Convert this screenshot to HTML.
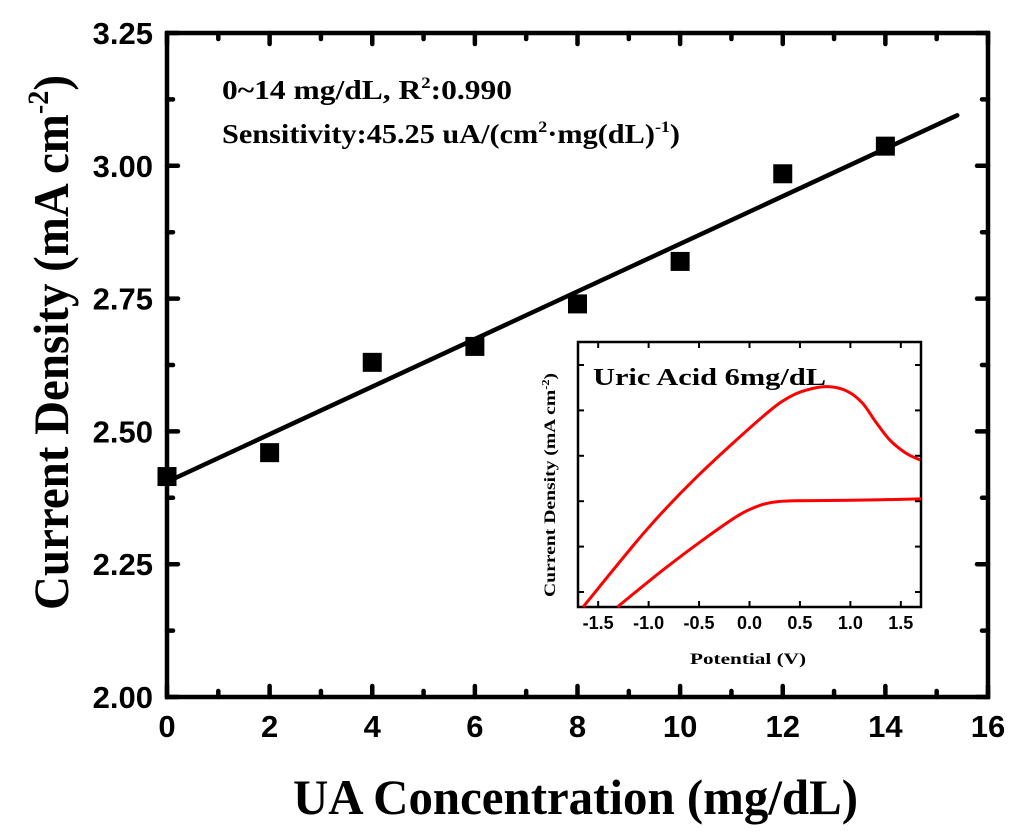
<!DOCTYPE html>
<html><head><meta charset="utf-8"><style>
html,body{margin:0;padding:0;background:#fff;width:1024px;height:839px;overflow:hidden}
text{font-family:"Liberation Sans",sans-serif}
.serif{font-family:"Liberation Serif",serif;font-weight:bold}
</style></head><body>
<svg id="chart" width="1024" height="839" viewBox="0 0 1024 839" xmlns="http://www.w3.org/2000/svg">
<g id="main"></g>
<g id="inset"></g>
</svg>
<script>
const xCats = [0, 2, 4, 6, 8, 10, 12, 14];
const yVals = [2.415, 2.46, 2.63, 2.66, 2.74, 2.82, 2.985, 3.037];
const xTicks = [0, 2, 4, 6, 8, 10, 12, 14, 16];
const yTicks = [2.00, 2.25, 2.50, 2.75, 3.00, 3.25];
const fitX = [0, 15.4];
const fitY = [2.405, 3.095];
const insetXTicks = [-1.5, -1.0, -0.5, 0.0, 0.5, 1.0, 1.5];
const insetYTicks = [1, 2, 3, 4, 5, 6];
const upperX = [-1.65, -1.02, -0.52, 0.13, 0.40, 0.62, 0.80, 0.97, 1.12, 1.25, 1.39, 1.55, 1.69];
const upperY = [0.67, 2.37, 3.54, 4.86, 5.30, 5.48, 5.52, 5.42, 5.16, 4.75, 4.35, 4.06, 3.91];
const lowerX = [-1.31, -0.86, -0.46, -0.10, 0.12, 0.28, 0.50, 1.0, 1.70];
const lowerY = [0.67, 1.48, 2.15, 2.70, 2.92, 2.99, 3.01, 3.02, 3.05];

const NS = "http://www.w3.org/2000/svg";
function mk(tag, attrs, parent){const e=document.createElementNS(NS,tag);for(const k in attrs)e.setAttribute(k,attrs[k]);parent.appendChild(e);return e;}

const L=167,R=988,T=33,B=697;
const sx=v=>L+(v-0)/16*(R-L);
const sy=v=>B-(v-2.0)/1.25*(B-T);
const main=document.getElementById('main');
const frame=mk('rect',{x:L,y:T,width:R-L,height:B-T,fill:'none',stroke:'#000','stroke-width':4.5},main);


for(let i=0;i<=16;i++){
  const x=sx(i),len=(i%2===0)?11:6;
  const t1=mk('line',{x1:x,y1:B,x2:x,y2:B-len,stroke:'#000','stroke-width':4.5,'stroke-linecap':'round'},main);
  
  
  const t2=mk('line',{x1:x,y1:T,x2:x,y2:T+len,stroke:'#000','stroke-width':4.5,'stroke-linecap':'round'},main);
  
  
}
for(let i=0;i<=10;i++){
  const v=2+i*0.125,y=sy(v),len=(i%2===0)?11:6;
  const t1=mk('line',{x1:L,y1:y,x2:L+len,y2:y,stroke:'#000','stroke-width':4.5,'stroke-linecap':'round'},main);
  
  
  const t2=mk('line',{x1:R,y1:y,x2:R-len,y2:y,stroke:'#000','stroke-width':4.5,'stroke-linecap':'round'},main);
  
  
}
xTicks.forEach(v=>{
  const t=mk('text',{x:sx(v),y:737,'text-anchor':'middle','font-size':31,'font-weight':'bold'},main);t.textContent=v;
  
  
});
yTicks.forEach(v=>{
  const t=mk('text',{x:153,y:sy(v)+11,'text-anchor':'end','font-size':31,'font-weight':'bold'},main);t.textContent=v.toFixed(2);
  
  
});
const fit=mk('line',{x1:sx(fitX[0]),y1:sy(fitY[0]),x2:sx(fitX[1]),y2:sy(fitY[1]),stroke:'#000','stroke-width':4.5,'stroke-linecap':'round'},main);


xCats.forEach((c,i)=>{
  const s=mk('rect',{x:sx(c)-9.5,y:sy(yVals[i])-9.5,width:19,height:19,fill:'#000'},main);
  
  
});
let t=mk('text',{x:222,y:99,'font-size':27,class:'serif',textLength:290,lengthAdjust:'spacingAndGlyphs'},main);
t.innerHTML='0~14 mg/dL,  R<tspan dy="-11" font-size="16">2</tspan><tspan dy="11">:0.990</tspan>';


t=mk('text',{x:222,y:143,'font-size':27,class:'serif',textLength:458,lengthAdjust:'spacingAndGlyphs'},main);
t.innerHTML='Sensitivity:45.25 uA/(cm<tspan dy="-11" font-size="16">2</tspan><tspan dy="11">·mg(dL)</tspan><tspan dy="-11" font-size="16">-1</tspan><tspan dy="11">)</tspan>';


t=mk('text',{x:293,y:814,'font-size':50,class:'serif',textLength:565,lengthAdjust:'spacingAndGlyphs'},main);
t.textContent='UA Concentration (mg/dL)';


t=mk('text',{x:-268,y:0,'font-size':50,class:'serif',transform:'translate(68,342) rotate(-90)',textLength:535,lengthAdjust:'spacingAndGlyphs'},main);
t.innerHTML='Current Density  (mA cm<tspan dy="-20" font-size="30">-2</tspan><tspan dy="20">)</tspan>';



const IL=578,IR=921,IT=342,IB=607;
const ix=v=>IL+(v+1.7)/3.4*(IR-IL);
const iy=v=>592-(v-1)*45.4;
const ins=document.getElementById('inset');
const bg=mk('rect',{x:IL,y:IT,width:IR-IL,height:IB-IT,fill:'#fff',stroke:'#000','stroke-width':2.5},ins);


insetXTicks.forEach(v=>{
  const l=mk('line',{x1:ix(v),y1:IB,x2:ix(v),y2:IB-6,stroke:'#000','stroke-width':2},ins);
  
  
  const l2=mk('line',{x1:ix(v),y1:IT,x2:ix(v),y2:IT+6,stroke:'#000','stroke-width':2},ins);
  
  
  const tx=mk('text',{x:ix(v),y:629,'text-anchor':'middle','font-size':18,'font-weight':'bold'},ins);tx.textContent=v.toFixed(1);
  
  
});
insetYTicks.forEach(v=>{
  const l=mk('line',{x1:IL,y1:iy(v),x2:IL+6,y2:iy(v),stroke:'#000','stroke-width':2},ins);
  
  
  const l2=mk('line',{x1:IR,y1:iy(v),x2:IR-6,y2:iy(v),stroke:'#000','stroke-width':2},ins);
  
  
});
function curve(xs,ys,name){
  let d='M'+ix(xs[0])+','+iy(ys[0]);
  for(let i=1;i<xs.length;i++){
    const p0=[ix(xs[Math.max(i-2,0)]),iy(ys[Math.max(i-2,0)])],p1=[ix(xs[i-1]),iy(ys[i-1])],p2=[ix(xs[i]),iy(ys[i])],p3=[ix(xs[Math.min(i+1,xs.length-1)]),iy(ys[Math.min(i+1,xs.length-1)])];
    d+=' C'+(p1[0]+(p2[0]-p0[0])/6)+','+(p1[1]+(p2[1]-p0[1])/6)+' '+(p2[0]-(p3[0]-p1[0])/6)+','+(p2[1]-(p3[1]-p1[1])/6)+' '+p2[0]+','+p2[1];
  }
  const p=mk('path',{d:d,fill:'none',stroke:'#f00','stroke-width':3},ins);
  
  
}
curve(upperX,upperY,'inset-upper-curve');
curve(lowerX,lowerY,'inset-lower-curve');
t=mk('text',{x:593,y:385,'font-size':24,class:'serif',textLength:233,lengthAdjust:'spacingAndGlyphs'},ins);t.textContent='Uric Acid 6mg/dL';


t=mk('text',{x:690,y:664,'font-size':16,class:'serif',textLength:116,lengthAdjust:'spacingAndGlyphs'},ins);t.textContent='Potential (V)';


t=mk('text',{x:-112,y:0,'font-size':16,class:'serif',transform:'translate(555,485) rotate(-90)',textLength:224,lengthAdjust:'spacingAndGlyphs'},ins);
t.innerHTML='Current Density (mA cm<tspan dy="-6" font-size="10">-2</tspan><tspan dy="6">)</tspan>';


</script>
</body></html>
